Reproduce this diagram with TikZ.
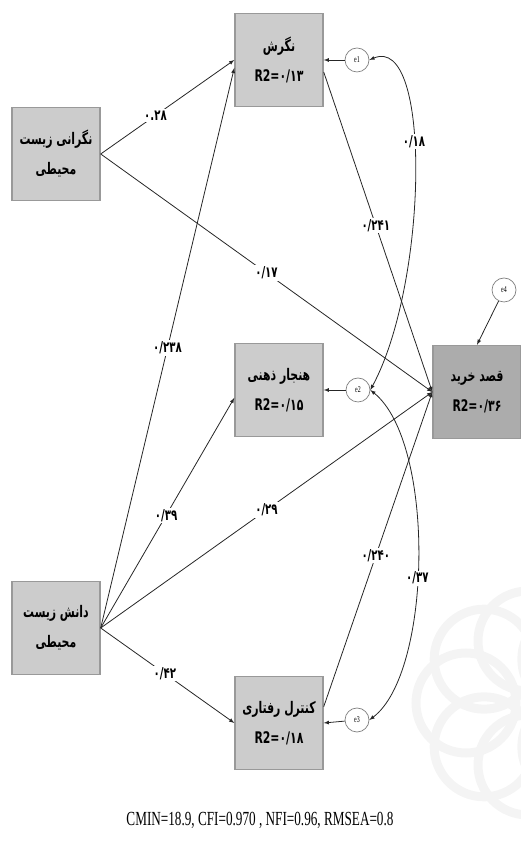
\documentclass[tikz,border=0pt]{standalone}
\usepackage{fontspec}
\setmainfont{Liberation Serif}[FakeStretch=0.66]
\newfontfamily\arabicfont[Script=Arabic,FakeStretch=0.68]{DejaVu Sans}
\TeXXeTstate=1

\begin{document}
\begin{tikzpicture}[x=1pt,y=1pt,>=latex,
        box/.style={draw=gray!80,line width=1.4pt,fill=gray!40,minimum width=88pt,minimum height=93pt,align=center,
            font=\arabicfont\bfseries\fontsize{16}{30}\selectfont},
        err/.style={circle,draw=gray,fill=white,line width=0.7pt,minimum size=24pt,inner sep=0pt,font=\fontsize{9}{10}\selectfont},
        coef/.style={fill=white,inner sep=1.5pt,font=\arabicfont\bfseries\fontsize{15}{16}\selectfont},
        link/.style={->,line width=0.8pt,draw=black!85}]
    	\useasboundingbox (0,0) rectangle (521,843);
    	\begin{scope}
    		\clip (380,0) rectangle (521,390);
    		\foreach \a in {0,45,...,315}
    			\draw[gray!9,line width=9pt] (528,140) ++(\a:62) circle (50pt);
    	\end{scope}
    	\node[box] (att) at (279,783) {\beginR نگرش\endR\\R2=۰/۱۳};
    	\node[box] (concern) at (56,689) {\beginR نگرانی زیست\endR\\\beginR محیطی\endR};
    	\node[box] (norm) at (279,453) {\beginR هنجار ذهنی\endR\\R2=۰/۱۵};
    	\node[box,fill=gray!65] (intent) at (477,451) {\beginR قصد خرید\endR\\R2=۰/۳۶};
    	\node[box] (know) at (56,215) {\beginR دانش زیست\endR\\\beginR محیطی\endR};
    	\node[box] (ctrl) at (279,120) {\beginR کنترل رفتاری\endR\\R2=۰/۱۸};
    	\node[err] (e1) at (357,783) {e1};
    	\node[err] (e2) at (358,453) {e2};
    	\node[err] (e3) at (357,123) {e3};
    	\node[err] (e4) at (504,553) {e4};
    	\draw[link] (concern.east) -- node[coef,pos=0.41] {۰.۲۸} (att.west);
    	\draw[link] (concern.east) -- node[coef,pos=0.5] {۰/۱۷} (intent.west);
    	\draw[link] (know.east) -- node[coef,pos=0.5] {۰/۲۳۸} (att.190);
    	\draw[link] (know.east) -- node[coef,pos=0.49] {۰/۳۹} (norm.190);
    	\draw[link] (know.east) -- node[coef,pos=0.5] {۰/۲۹} (intent.west);
    	\draw[link] (know.east) -- node[coef,pos=0.48] {۰/۴۲} (ctrl.west);
    	\draw[link] (att.-15) -- node[coef,pos=0.48] {۰/۲۴۱} (intent.west);
    	\draw[link] (ctrl.20) -- node[coef,pos=0.48] {۰/۲۴۰} (intent.west);
    	\draw[link] (e1) -- (att.east);
    	\draw[link] (e2) -- (norm.east);
    	\draw[link] (e3) -- (ctrl.east);
    	\draw[link] (e4) -- (intent.north);
    	\draw[link,<->] (e1.east) .. controls (432,810) and (428,560) .. node[coef,pos=0.42] {۰/۱۸} (e2.east);
    	\draw[link,<->] (e2.east) .. controls (436,400) and (432,170) .. node[coef,pos=0.55] {۰/۳۷} (e3.east);
    	\node[font=\fontsize{20}{22}\selectfont] (fitidx) at (260,23) {CMIN=18.9, CFI=0.970 , NFI=0.96, RMSEA=0.8};
    \end{tikzpicture}
\end{document}
